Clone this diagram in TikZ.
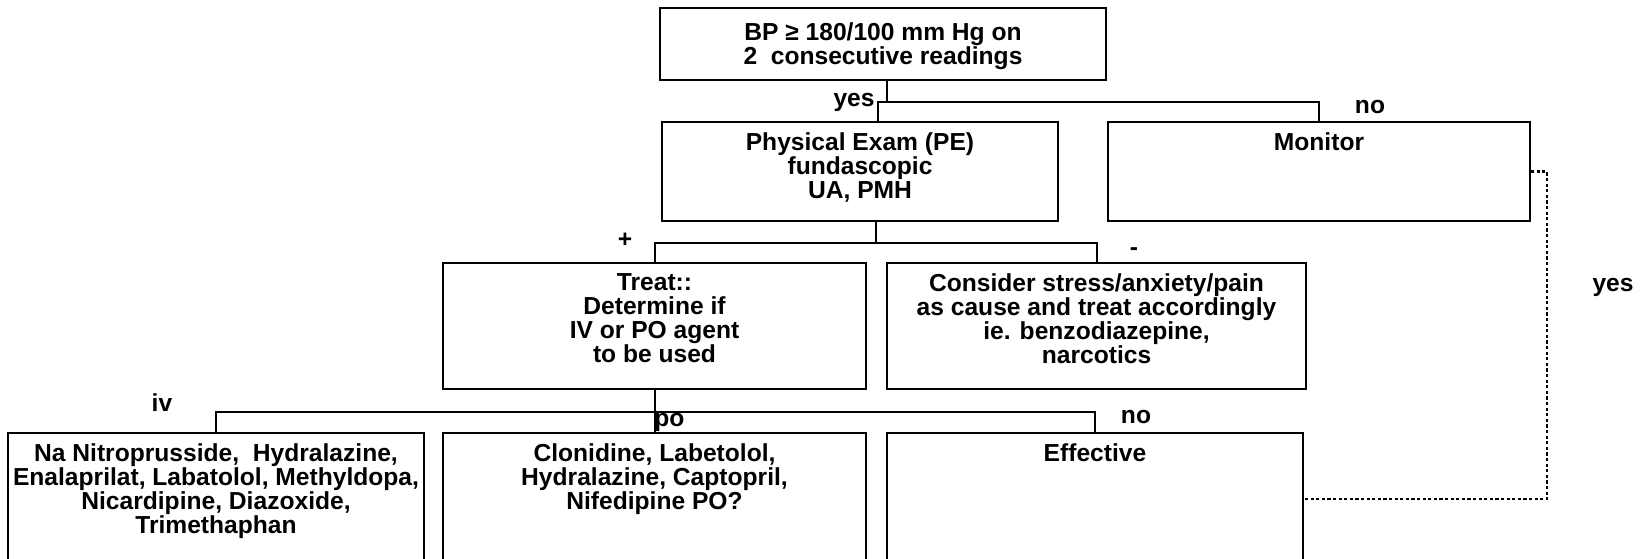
\documentclass[tikz,border=0pt]{standalone}
\usepackage{fontspec}
\setmainfont{Liberation Sans}
\usetikzlibrary{fit, positioning}

\begin{document}
\begin{tikzpicture}[
      x=0.5pt, y=-0.5pt,
      every node/.style={font=\fontsize{12.3pt}{12pt}\selectfont\bfseries},
      box/.style={draw, line width=1pt, inner sep=0pt, fit={#1}},
      boxtext/.style={anchor=north, align=center, inner sep=0pt, yshift=-5.5pt},
      link/.style={line width=1pt},
      dotlink/.style={line width=1.1pt, dash pattern=on 1.6pt off 1.2pt},
      tag/.style={inner sep=0pt}
  ]
      \useasboundingbox (0,0) rectangle (1642,558);
      \clip (0,0) rectangle (1642,558);
      % boxes
      \node[box={(660,8) (1106,80)}, label={[boxtext, yshift=-2pt]north:{BP ≥ 180/100 mm Hg on\\2\ \ consecutive readings}}] (bp) {};
      \node[box={(662,122) (1058,221)}, label={[boxtext]north:{Physical Exam (PE)\\fundascopic\\UA, PMH}}] (pe) {};
      \node[box={(1108,122) (1530,221)}, label={[boxtext]north:Monitor}] (mon) {};
      \node[box={(443,263) (866,389)}, label={[boxtext]north:{Treat::\\Determine if\\IV or PO agent\\to be used}}] (treat) {};
      \node[box={(887,263) (1306,389)}, label={[boxtext]north:{Consider stress/anxiety/pain\\as cause and treat accordingly\\ie. benzodiazepine,\\narcotics}}] (cons) {};
      \node[box={(8,433) (424,565)}, label={[boxtext]north:{Na Nitroprusside,\ \ Hydralazine,\\Enalaprilat, Labatolol, Methyldopa,\\Nicardipine, Diazoxide,\\Trimethaphan}}] (ivdrugs) {};
      \node[box={(443,433) (866,565)}, label={[boxtext]north:{Clonidine, Labetolol,\\Hydralazine, Captopril,\\Nifedipine PO?}}] (podrugs) {};
      \node[box={(887,433) (1303,565)}, label={[boxtext]north:Effective}] (eff) {};
      % branch labels
      \node[tag, anchor=base east] (yeslab) at (875,106) {yes};
      \node[tag] (nolab) at (1370,107) {no};
      \node[tag] (pluslab) at (625,240) {+};
      \node[tag] (minuslab) at (1134,252) {-};
      \node[tag] (ivlab) at (162,403) {iv};
      \node[tag, anchor=base west] (polab) at (654,426) {po};
      \node[tag] (nolabb) at (1136,417) {no};
      \node[tag] (yeslabb) at (1613,287) {yes};
      % connectors
      \coordinate (yesj) at (887,102);
      \coordinate (yesl) at (878,102);
      \coordinate (pej) at (876,243);
      \coordinate (rowj) at (651,412);
      \draw[link] (bp.south -| yesj) -- (yesj);
      \draw[link] (pe.north -| yesl) -- (yesl) -- (yesl -| mon.north) -- (mon.north);
      \draw[link] (pe.south -| pej) -- (pej);
      \draw[link] (treat.north) -- (treat.north |- pej) -- (cons.north |- pej) -- (cons.north);
      \draw[link] (treat.south) -- (podrugs.north);
      \draw[link] (ivdrugs.north) -- (ivdrugs.north |- rowj) -- (eff.north |- rowj) -- (eff.north);
      \draw[dotlink] (mon.east) -- ++(16,0) |- (eff.east);
  \end{tikzpicture}
\end{document}
